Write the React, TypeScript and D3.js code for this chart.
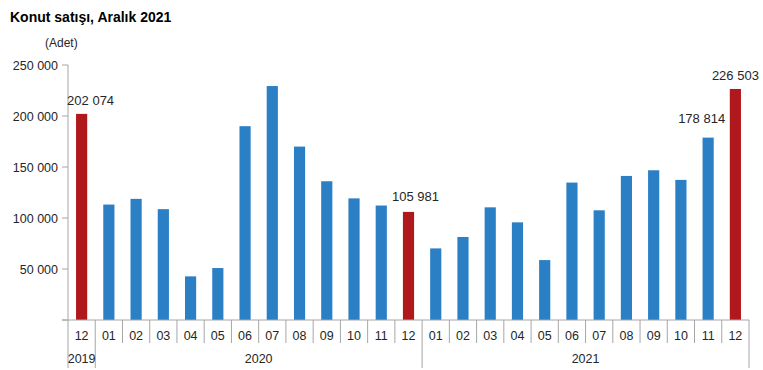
import React from "react";
import * as d3 from "d3";

const months = ["12","01","02","03","04","05","06","07","08","09","10","11","12","01","02","03","04","05","06","07","08","09","10","11","12"];
const values = [202074,113164,118753,108670,42783,50936,190012,229357,170019,136023,119237,112238,105981,70195,81363,110450,95733,58745,134738,107542,141231,146790,137360,178814,226503];
const highlighted = [0, 12, 24];
const labelled = [0, 12, 23, 24];
const years = [{ label: "2019", start: 0, end: 1 }, { label: "2020", start: 1, end: 13 }, { label: "2021", start: 13, end: 25 }];
const yTicks = [0, 50000, 100000, 150000, 200000, 250000];

const fmt = (v: number) => d3.format(",")(v).replace(/,/g, " ");

const labelShift: Record<number, [number, number]> = { 0: [9, 9], 12: [7, 11], 23: [-6.5, 14.5], 24: [0, 8.5] };

export default function App() {
  const W = 763, H = 370;
  const left = 68, right = 749, top = 65, bottom = 320;
  const x = d3.scaleBand<number>().domain(d3.range(values.length)).range([left, right]).paddingInner(0.59).paddingOuter(0.295);
  const step = (right - left) / values.length;
  const y = d3.scaleLinear().domain([0, 250000]).range([bottom, top]);
  const axisColor = "#a6a6a6";
  const textColor = "#262626";
  const font = "'Liberation Sans', Arial, sans-serif";
  const edge = (i: number) => left + i * step;

  return (
    <svg width={W} height={H} style={{ position: "absolute", left: 0, top: 0 }} fontFamily={font}>
      <rect width={W} height={H} fill="#fff" />
      <text x={10} y={22} fontSize={14} fontWeight="bold" fill="#000">Konut satışı, Aralık 2021</text>
      <text x={45} y={47} fontSize={12} fill={textColor}>(Adet)</text>
      {/* y axis */}
      <line x1={left} x2={left} y1={top} y2={bottom} stroke={axisColor} />
      {yTicks.map((t) => (
        <g key={t}>
          <line x1={left - 6} x2={left} y1={y(t)} y2={y(t)} stroke={axisColor} />
          {t > 0 && (
            <text x={58} y={y(t) + 4.5} fontSize={12.5} textAnchor="end" fill={textColor}>{fmt(t)}</text>
          )}
        </g>
      ))}
      {/* bars */}
      {values.map((v, i) => (
        <rect key={i} x={x(i)} y={y(v)} width={x.bandwidth()} height={bottom - y(v)}
          fill={highlighted.includes(i) ? "#b0191c" : "#2a7fc5"} />
      ))}
      {labelled.map((i) => (
        <text key={i} x={x(i)! + x.bandwidth() / 2 + labelShift[i][0]} y={y(values[i]) - labelShift[i][1]}
          fontSize={13} textAnchor="middle" fill={textColor}>{fmt(values[i])}</text>
      ))}
      {/* x axis */}
      <line x1={left - 6} x2={right} y1={bottom} y2={bottom} stroke={axisColor} />
      {d3.range(values.length + 1).map((i) => {
        const isYear = years.some((yr) => yr.start === i || yr.end === i);
        return <line key={i} x1={edge(i)} x2={edge(i)} y1={bottom} y2={isYear ? 368 : 343} stroke={axisColor} />;
      })}
      {months.map((m, i) => (
        <text key={i} x={edge(i) + step / 2} y={340} fontSize={12.5} textAnchor="middle" fill={textColor}>{m}</text>
      ))}
      {years.map((yr) => (
        <text key={yr.label} x={(edge(yr.start) + edge(yr.end)) / 2} y={363} fontSize={12.5} textAnchor="middle" fill={textColor}>{yr.label}</text>
      ))}
    </svg>
  );
}
